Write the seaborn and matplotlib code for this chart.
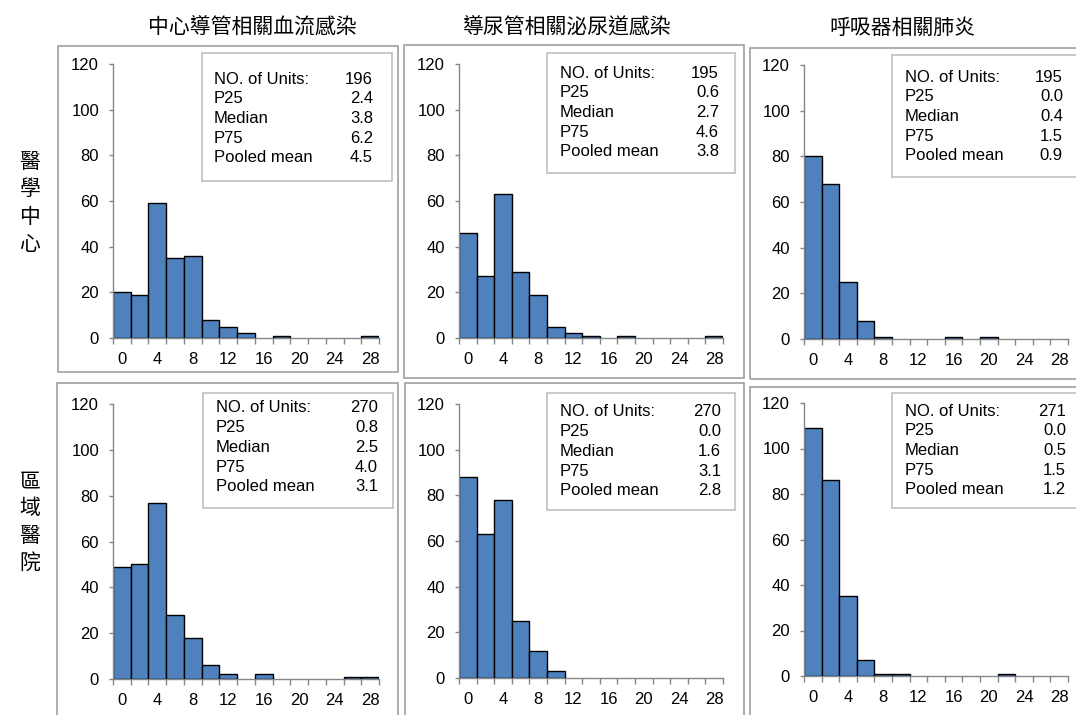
import numpy as np
import pandas as pd
import matplotlib
matplotlib.use("Agg")
import matplotlib.pyplot as plt
from matplotlib.patches import Rectangle
import seaborn as sns

# Rate bins (centres, width 2) shared by every histogram
bin_centers = [0, 2, 4, 6, 8, 10, 12, 14, 16, 18, 20, 22, 24, 26, 28]
tick_labels = [0, 4, 8, 12, 16, 20, 24, 28]

# Infection types (columns) and hospital levels (rows)
infection_types = ["中心導管相關血流感染", "導尿管相關泌尿道感染", "呼吸器相關肺炎"]
hospital_levels = ["醫學中心", "區域醫院"]

# Number of units per bin, row-major: medical centres then regional hospitals
clabsi_medical = [20, 19, 59, 35, 36, 8, 5, 2, 0, 1, 0, 0, 0, 0, 1]
cauti_medical = [46, 27, 63, 29, 19, 5, 2, 1, 0, 1, 0, 0, 0, 0, 1]
vap_medical = [80, 68, 25, 8, 1, 0, 0, 0, 1, 0, 1, 0, 0, 0, 0]
clabsi_regional = [49, 50, 77, 28, 18, 6, 2, 0, 2, 0, 0, 0, 0, 1, 1]
cauti_regional = [88, 63, 78, 25, 12, 3, 0, 0, 0, 0, 0, 0, 0, 0, 0]
vap_regional = [109, 86, 35, 7, 1, 1, 0, 0, 0, 0, 0, 1, 0, 0, 0]

# Summary statistics shown in each panel's box
n_units = [196, 195, 195, 270, 270, 271]
p25 = [2.4, 0.6, 0.0, 0.8, 0.0, 0.0]
median = [3.8, 2.7, 0.4, 2.5, 1.6, 0.5]
p75 = [6.2, 4.6, 1.5, 4.0, 3.1, 1.5]
pooled_mean = [4.5, 3.8, 0.9, 3.1, 2.8, 1.2]

panel_counts = [clabsi_medical, cauti_medical, vap_medical,
                clabsi_regional, cauti_regional, vap_regional]

sns.set_theme(style="white")
plt.rcParams["font.family"] = ["Liberation Sans", "DejaVu Sans"]
CJK = ["Noto Sans CJK TC", "DejaVu Sans"]

W, H = 1076, 715
fig = plt.figure(figsize=(W / 100, H / 100), dpi=100)
fig.patch.set_facecolor("white")


def fx(px):
    return px / W


def fy(py):
    return 1 - py / H


BAR_COLOR = "#4F81BD"
AXIS_GRAY = "#868686"
FRAME_GRAY = "#A0A0A0"
BOX_GRAY = "#C0C0C0"

# Chart-area frames (left, top, right, bottom) in pixels
frames = [(58, 46, 398, 372), (404, 45, 744, 378), (750, 48, 1082, 379),
          (57, 383, 398, 720), (405, 383, 744, 720), (750, 387, 1082, 720)]
# Plot areas (left, y of 120, right, y of 0) in pixels
plots = [(113, 64, 379, 338), (459, 64, 723, 338), (804, 65, 1068, 339),
         (113, 404, 379, 679), (459, 404, 723, 678), (804, 403, 1068, 676)]
# Statistic boxes (left, top, right, bottom), first text line y, label x, value x
boxes = [((202, 53, 392, 181), 79, 214, 373),
         ((547, 53, 735, 173), 73, 560, 719),
         ((892, 55, 1090, 177), 77, 905, 1063),
         ((203, 393, 393, 508), 408, 216, 378),
         ((547, 393, 735, 510), 412, 560, 721),
         ((892, 393, 1090, 508), 411, 905, 1066)]
line_step = 19.7

edges = np.arange(-1, 30, 2)

for i in range(6):
    fl, ft, fr, fb = frames[i]
    fig.patches.append(Rectangle((fx(fl), fy(fb)), fx(fr - fl), fb / H - ft / H,
                                 transform=fig.transFigure, fill=False,
                                 edgecolor=FRAME_GRAY, linewidth=1.2, zorder=0))

    l, t, r, b = plots[i]
    ax = fig.add_axes([fx(l), fy(b), fx(r - l), (b - t) / H])
    df = pd.DataFrame({"rate": bin_centers, "units": panel_counts[i]})
    sns.histplot(data=df, x="rate", weights="units", binwidth=2,
                 binrange=(-1, 29), ax=ax, color=BAR_COLOR,
                 edgecolor="black", linewidth=1.0, alpha=1.0)
    # zero-count bins draw nothing
    for p in list(ax.patches):
        if p.get_height() == 0:
            p.remove()

    ax.set_xlim(-1, 29)
    ax.set_ylim(0, 120)
    ax.set_xlabel("")
    ax.set_ylabel("")
    ax.set_facecolor("none")
    for s in ["top", "right"]:
        ax.spines[s].set_visible(False)
    for s in ["left", "bottom"]:
        ax.spines[s].set_color(AXIS_GRAY)
        ax.spines[s].set_linewidth(1.0)
    ax.spines["bottom"].set_zorder(0.5)

    ax.set_yticks(range(0, 121, 20))
    ax.set_xticks(tick_labels)
    ax.set_xticks(edges, minor=True)
    ax.tick_params(axis="y", which="major", direction="out", length=3,
                   width=1, color=AXIS_GRAY, pad=7, labelsize=12,
                   labelcolor="black", left=True)
    ax.tick_params(axis="x", which="major", length=0, pad=10,
                   labelsize=12, labelcolor="black", bottom=True)
    ax.tick_params(axis="x", which="minor", direction="out", length=4,
                   width=1, color=AXIS_GRAY, bottom=True)
    ax.grid(False)

    (bl, bt, br, bb), y0, lx, vx = boxes[i]
    fig.patches.append(Rectangle((fx(bl), fy(bb)), fx(br - bl), bb / H - bt / H,
                                 transform=fig.transFigure, facecolor="white",
                                 edgecolor=BOX_GRAY, linewidth=1.2, zorder=3))
    labels = ["NO. of Units:", "P25", "Median", "P75", "Pooled mean"]
    values = [f"{n_units[i]}", f"{p25[i]:.1f}", f"{median[i]:.1f}",
              f"{p75[i]:.1f}", f"{pooled_mean[i]:.1f}"]
    for k, (lab, val) in enumerate(zip(labels, values)):
        yy = fy(y0 + k * line_step)
        fig.text(fx(lx), yy, lab, ha="left", va="center", fontsize=12,
                 color="black", zorder=4)
        fig.text(fx(vx), yy, val, ha="right", va="center", fontsize=12,
                 color="black", zorder=4)

# Column titles
for x, title in zip([252, 567, 902], infection_types):
    fig.text(fx(x), fy(28), title, ha="center", va="center",
             fontsize=15, family=CJK, color="black")

# Row titles, stacked vertically
for y, level in zip([203, 522], hospital_levels):
    fig.text(fx(30), fy(y), "\n".join(level), ha="center", va="center",
             fontsize=15, family=CJK, color="black", linespacing=1.3)

fig.savefig("out.png", dpi=100)
